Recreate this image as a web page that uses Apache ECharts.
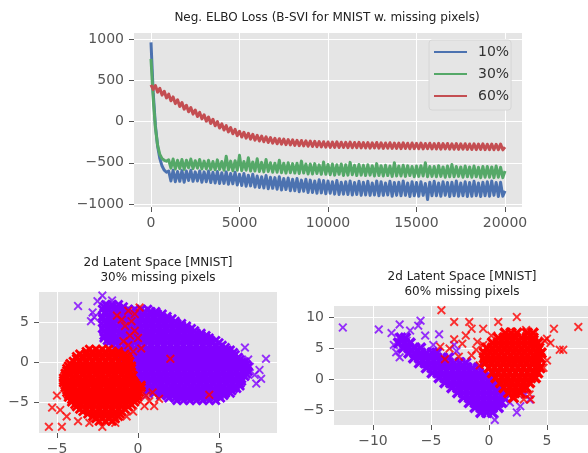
<!DOCTYPE html>
<html><head><meta charset="utf-8">
<script src="https://cdn.jsdelivr.net/npm/echarts@6/dist/echarts.min.js"></script>
<style>html,body{margin:0;padding:0;background:#fff}#c{width:588px;height:453px}</style>
</head><body><div id="c"></div>
<script>
// ---- Loss curves (sampled every 125 iterations) ----
const seriesNames = ['10%', '30%', '60%'];
const iters = Array.from({length: 161}, (_, i) => i * 125);
const loss10 = [960,350,-50,-300,-450,-540,-590,-615,
-600,-720,-590,-730,-605,-725,-595,-735,
-600,-715,-590,-725,-610,-720,-600,-735,
-610,-730,-600,-740,-615,-745,-605,-750,
-620,-750,-610,-760,-630,-755,-615,-770,
-640,-775,-630,-785,-650,-780,-640,-795,
-660,-800,-670,-805,-655,-815,-675,-810,
-680,-820,-670,-830,-690,-825,-685,-840,
-700,-840,-690,-850,-710,-845,-700,-860,
-710,-860,-720,-870,-705,-865,-715,-875,
-720,-870,-730,-880,-715,-885,-735,-880,
-730,-885,-720,-890,-740,-885,-725,-895,
-735,-890,-725,-895,-745,-890,-720,-900,
-730,-895,-745,-890,-725,-905,-740,-895,
-735,-900,-720,-895,-745,-910,-730,-900,
-740,-905,-730,-895,-750,-945,-735,-900,
-725,-900,-745,-905,-730,-895,-740,-910,
-735,-900,-720,-905,-745,-900,-730,-910,
-740,-905,-725,-900,-745,-910,-735,-900,
-730,-905,-720,-895,-740,-910,-735,-905,
-840];
const loss30 = [760,280,-80,-290,-400,-450,-470,-480,
-465,-565,-455,-575,-470,-570,-460,-580,
-470,-560,-455,-570,-475,-565,-460,-575,
-480,-575,-470,-580,-485,-585,-465,-580,
-485,-590,-420,-585,-480,-595,-475,-590,
-410,-595,-485,-590,-440,-600,-490,-600,
-450,-605,-495,-610,-460,-605,-500,-615,
-505,-615,-470,-620,-505,-625,-500,-620,
-510,-625,-505,-630,-480,-625,-515,-635,
-515,-635,-510,-630,-525,-640,-490,-640,
-520,-645,-515,-650,-525,-640,-515,-655,
-525,-650,-495,-645,-530,-655,-520,-650,
-530,-655,-525,-650,-535,-660,-510,-655,
-535,-660,-530,-655,-540,-665,-500,-660,
-540,-660,-530,-665,-535,-655,-545,-670,
-540,-665,-535,-660,-500,-670,-545,-665,
-545,-670,-535,-665,-550,-675,-540,-670,
-520,-670,-545,-665,-550,-675,-540,-670,
-550,-675,-540,-670,-555,-680,-545,-675,
-545,-675,-550,-680,-540,-675,-555,-680,
-600];
const loss60 = [445,390,437,356,402,320,367,286,
332,251,298,217,264,183,230,150,
197,119,169,90,140,61,111,32,
82,4,54,-23,27,-51,-1,-78,
-28,-103,-50,-126,-73,-148,-95,-171,
-118,-188,-130,-201,-143,-213,-155,-226,
-168,-236,-177,-245,-186,-254,-194,-263,
-203,-270,-208,-274,-213,-280,-218,-284,
-223,-289,-227,-293,-230,-296,-234,-300,
-238,-303,-240,-306,-243,-308,-245,-311,
-248,-313,-250,-314,-247,-315,-251,-315,
-252,-317,-250,-318,-254,-317,-252,-319,
-256,-321,-255,-322,-258,-320,-254,-323,
-259,-325,-260,-324,-257,-326,-261,-325,
-262,-328,-259,-327,-263,-330,-260,-328,
-264,-330,-262,-331,-266,-329,-263,-332,
-267,-333,-265,-334,-268,-332,-266,-335,
-270,-336,-268,-337,-271,-335,-269,-338,
-272,-339,-271,-340,-274,-338,-270,-341,
-275,-341,-273,-342,-276,-340,-274,-343,
-310];
const lossTicksX = [0, 5000, 10000, 15000, 20000];
const lossTicksY = [-1000, -500, 0, 500, 1000];

// ---- Latent space, 30% missing: rows [v, u1, u2, ...] ----
const purple30Rows = [
[7.2,-2.0,-1.6,-1.2],
[6.9,-2.1,-1.7,-1.3,-0.9],
[6.6,-2.2,-1.8,-1.4,-1.0,-0.6,-0.2,0.2,0.6],
[6.3,-2.0,-1.6,-1.2,-0.8,-0.4,0.0,0.4,0.8,1.1],
[6.0,-2.0,-1.6,-1.2,-0.8,-0.4,0.0,0.4,0.8,1.2,1.5],
[5.7,-2.2,-1.8,-1.4,-1.0,-0.6,-0.2,0.2,0.6,1.0,1.4,1.8],
[5.4,-2.2,-1.8,-1.4,-1.0,-0.6,-0.2,0.2,0.6,1.0,1.4,1.8,2.1],
[5.1,-2.1,-1.7,-1.3,-0.9,-0.5,-0.1,0.3,0.7,1.1,1.5,1.9,2.3],
[4.8,-2.0,-1.6,-1.2,-0.8,-0.4,0.0,0.4,0.8,1.2,1.6,2.0,2.4,2.7],
[4.5,-2.1,-1.7,-1.3,-0.9,-0.5,-0.1,0.3,0.7,1.1,1.5,1.9,2.3,2.7,3.0],
[4.2,-2.2,-1.8,-1.4,-1.0,-0.6,-0.2,0.2,0.6,1.0,1.4,1.8,2.2,2.6,3.0,3.3],
[3.9,-2.1,-1.7,-1.3,-0.9,-0.5,-0.1,0.3,0.7,1.1,1.5,1.9,2.3,2.7,3.1,3.5],
[3.6,-2.0,-1.6,-1.2,-0.8,-0.4,0.0,0.4,0.8,1.2,1.6,2.0,2.4,2.8,3.2,3.6,3.9],
[3.3,-2.1,-1.7,-1.3,-0.9,-0.5,-0.1,0.3,0.7,1.1,1.5,1.9,2.3,2.7,3.1,3.5,3.9,4.2],
[3.0,-2.1,-1.8,-1.4,-1.0,-0.6,-0.2,0.2,0.6,1.0,1.4,1.8,2.2,2.6,3.0,3.4,3.8,4.2,4.4],
[2.7,-1.9,-1.5,-1.1,-0.7,-0.3,0.1,0.5,0.9,1.3,1.7,2.1,2.5,2.9,3.3,3.7,4.1,4.5,4.8],
[2.4,-1.8,-1.4,-1.0,-0.6,-0.2,0.2,0.6,1.0,1.4,1.8,2.2,2.6,3.0,3.4,3.8,4.2,4.6,5.0],
[2.1,-1.6,-1.2,-0.8,-0.4,0.0,0.4,0.8,1.2,1.6,2.0,2.4,2.8,3.2,3.6,4.0,4.4,4.8,5.2],
[1.8,-1.4,-1.0,-0.6,-0.2,0.2,0.6,1.0,1.4,1.8,2.2,2.6,3.0,3.4,3.8,4.2,4.6,5.0,5.4],
[1.5,-1.3,-0.9,-0.5,-0.1,0.3,0.7,1.1,1.5,1.9,2.3,2.7,3.1,3.5,3.9,4.3,4.7,5.1,5.5,5.7],
[1.2,-1.2,-0.8,-0.4,0.0,0.4,0.8,1.2,1.6,2.0,2.4,2.8,3.2,3.6,4.0,4.4,4.8,5.2,5.6,5.9],
[0.9,-1.1,-0.7,-0.3,0.1,0.5,0.9,1.3,1.7,2.1,2.5,2.9,3.3,3.7,4.1,4.5,4.9,5.3,5.7,6.0],
[0.6,-1.0,-0.6,-0.2,0.2,0.6,1.0,1.4,1.8,2.2,2.6,3.0,3.4,3.8,4.2,4.6,5.0,5.4,5.8,6.2],
[0.3,-0.9,-0.5,-0.1,0.3,0.7,1.1,1.5,1.9,2.3,2.7,3.1,3.5,3.9,4.3,4.7,5.1,5.5,5.9,6.3],
[0.0,-0.8,-0.4,0.0,0.4,0.8,1.2,1.6,2.0,2.4,2.8,3.2,3.6,4.0,4.4,4.8,5.2,5.6,6.0,6.4,6.6],
[-0.3,-0.7,-0.3,0.1,0.5,0.9,1.3,1.7,2.1,2.5,2.9,3.3,3.7,4.1,4.5,4.9,5.3,5.7,6.1,6.5,6.7],
[-0.6,-0.6,-0.2,0.2,0.6,1.0,1.4,1.8,2.2,2.6,3.0,3.4,3.8,4.2,4.6,5.0,5.4,5.8,6.2,6.6,6.8],
[-0.9,-0.5,-0.1,0.3,0.7,1.1,1.5,1.9,2.3,2.7,3.1,3.5,3.9,4.3,4.7,5.1,5.5,5.9,6.3,6.7],
[-1.2,-0.4,0.0,0.4,0.8,1.2,1.6,2.0,2.4,2.8,3.2,3.6,4.0,4.4,4.8,5.2,5.6,6.0,6.4,6.8],
[-1.5,-0.5,-0.1,0.3,0.7,1.1,1.5,1.9,2.3,2.7,3.1,3.5,3.9,4.3,4.7,5.1,5.5,5.9,6.3,6.7],
[-1.8,-0.5,-0.2,0.2,0.6,1.0,1.4,1.8,2.2,2.6,3.0,3.4,3.8,4.2,4.6,5.0,5.4,5.8,6.2,6.6],
[-2.1,-0.4,0.0,0.4,0.8,1.2,1.6,2.0,2.4,2.8,3.2,3.6,4.0,4.4,4.8,5.2,5.6,6.0,6.4],
[-2.4,-0.3,0.0,0.4,0.8,1.2,1.6,2.0,2.4,2.8,3.2,3.6,4.0,4.4,4.8,5.2,5.6,6.0,6.4],
[-2.7,-0.1,0.3,0.7,1.1,1.5,1.9,2.3,2.7,3.1,3.5,3.9,4.3,4.7,5.1,5.5,5.9,6.3],
[-3.0,0.0,0.4,0.8,1.2,1.6,2.0,2.4,2.8,3.2,3.6,4.0,4.4,4.8,5.2,5.6,6.0,6.3],
[-3.3,0.3,0.7,1.1,1.5,1.9,2.3,2.7,3.1,3.5,3.9,4.3,4.7,5.1,5.5,5.9,6.1],
[-3.6,0.6,1.0,1.4,1.8,2.2,2.6,3.0,3.4,3.8,4.2,4.6,5.0,5.4,5.8],
[-3.9,1.0,1.4,1.8,2.2,2.6,3.0,3.4,3.8,4.2,4.6,5.0,5.4,5.7],
[-4.2,1.4,1.8,2.2,2.6,3.0,3.4,3.8,4.2,4.6,5.0,5.3],
[-4.5,1.9,2.3,2.7,3.1,3.5,3.9,4.3,4.7,5.1],
[-4.8,2.4,2.8,3.2,3.6,4.0,4.4,4.8]];
const purple30Out = [[-3.7,7.0],[-2.2,8.3],[-2.8,6.2],[-2.9,5.1],[-2.7,5.6],[-1.6,7.7],[-1.9,7.2],[-2.5,7.6],
[6.6,1.8],[7.9,0.4],[6.8,0.3],[7.5,-1.0],[7.6,-2.1],[7.3,-2.7],[6.9,-0.6],[7.2,-1.6],[1.5,5.6],[0.5,-4.2]];
const red30Rows = [
[1.6,-3.0,-2.6,-2.2,-1.8],
[1.3,-3.2,-2.8,-2.4,-2.0,-1.6,-1.2],
[1.0,-3.6,-3.2,-2.8,-2.4,-2.0,-1.6,-1.2,-0.8],
[0.7,-3.8,-3.4,-3.0,-2.6,-2.2,-1.8,-1.4,-1.0,-0.7],
[0.4,-3.8,-3.4,-3.0,-2.6,-2.2,-1.8,-1.4,-1.0,-0.6],
[0.1,-4.0,-3.6,-3.2,-2.8,-2.4,-2.0,-1.6,-1.2,-0.8,-0.5],
[-0.2,-4.2,-3.8,-3.4,-3.0,-2.6,-2.2,-1.8,-1.4,-1.0,-0.6],
[-0.5,-4.3,-3.9,-3.5,-3.1,-2.7,-2.3,-1.9,-1.5,-1.1,-0.7,-0.4],
[-0.8,-4.4,-4.0,-3.6,-3.2,-2.8,-2.4,-2.0,-1.6,-1.2,-0.8,-0.4],
[-1.1,-4.4,-4.1,-3.7,-3.3,-2.9,-2.5,-2.1,-1.7,-1.3,-0.9,-0.5],
[-1.4,-4.5,-4.2,-3.8,-3.4,-3.0,-2.6,-2.2,-1.8,-1.4,-1.0,-0.6],
[-1.7,-4.5,-4.2,-3.8,-3.4,-3.0,-2.6,-2.2,-1.8,-1.4,-1.0,-0.6,-0.3],
[-2.0,-4.6,-4.0,-3.6,-3.2,-2.8,-2.4,-2.0,-1.6,-1.2,-0.8,-0.4],
[-2.3,-4.6,-4.3,-3.9,-3.5,-3.1,-2.7,-2.3,-1.9,-1.5,-1.1,-0.7,-0.3],
[-2.6,-4.6,-4.2,-3.8,-3.4,-3.0,-2.6,-2.2,-1.8,-1.4,-1.0,-0.6,-0.2],
[-2.9,-4.5,-4.1,-3.7,-3.3,-2.9,-2.5,-2.1,-1.7,-1.3,-0.9,-0.5,-0.1,0.2],
[-3.2,-4.5,-4.0,-3.6,-3.2,-2.8,-2.4,-2.0,-1.6,-1.2,-0.8,-0.4,0.0,0.2],
[-3.5,-4.4,-4.1,-3.7,-3.3,-2.9,-2.5,-2.1,-1.7,-1.3,-0.9,-0.5,-0.1],
[-3.8,-4.4,-4.2,-3.8,-3.4,-3.0,-2.6,-2.2,-1.8,-1.4,-1.0,-0.6,-0.2,0.1],
[-4.1,-4.3,-3.9,-3.5,-3.1,-2.7,-2.3,-1.9,-1.5,-1.1,-0.7,-0.3,0.0],
[-4.4,-4.3,-4.0,-3.6,-3.2,-2.8,-2.4,-2.0,-1.6,-1.2,-0.8,-0.4,0.0],
[-4.7,-4.1,-3.7,-3.3,-2.9,-2.5,-2.1,-1.7,-1.3,-0.9,-0.5,-0.1],
[-5.0,-4.1,-3.8,-3.4,-3.0,-2.6,-2.2,-1.8,-1.4,-1.0,-0.6,-0.2],
[-5.3,-3.9,-3.5,-3.1,-2.7,-2.3,-1.9,-1.5,-1.1,-0.7,-0.4],
[-5.6,-3.8,-3.4,-3.0,-2.6,-2.2,-1.8,-1.4,-1.0,-0.6],
[-5.9,-3.6,-3.2,-2.8,-2.4,-2.0,-1.6,-1.2,-0.8],
[-6.2,-3.4,-3.0,-2.6,-2.2,-1.8,-1.4,-1.0],
[-6.5,-3.1,-2.7,-2.3,-1.9,-1.5,-1.1],
[-6.8,-2.8,-2.4,-2.0,-1.6,-1.2],
[-7.1,-2.6,-2.2,-1.8,-1.4],
[-7.4,-2.4,-2.0,-1.6]];
const red30Out = [[-5.5,-8.1],[-4.7,-8.1],[-5.3,-5.7],[-5.0,-4.2],[-4.4,-6.8],[-4.8,-6.0],[-3.7,-7.4],[-3.0,-7.6],
[-2.2,-8.1],[-1.4,-7.6],[-0.7,-6.8],[-0.3,-6.2],[0.4,-5.5],[1.0,-5.5],[0.7,-4.9],[1.3,-4.6],[0.9,-3.8],[0.5,-4.2],
[0.1,6.8],[-0.6,6.4],[-0.2,6.0],[-0.4,5.1],[-1.0,5.3],[-0.2,3.9],[0.0,3.0],[-0.6,2.1],[-0.3,1.3],[-0.9,2.6],
[0.2,1.7],[2.0,0.4],[4.4,-4.1],[-1.3,5.8],[-0.8,4.5],[-0.5,3.3]];

// ---- Latent space, 60% missing ----
const purple60Rows = [
[6.6,-7.6,-7.2],
[5.8,-7.8,-7.3,-6.8],
[5.0,-7.4,-6.9,-6.4,-5.9],
[4.2,-6.9,-6.4,-5.9,-5.4,-4.9,-4.5],
[3.4,-6.5,-6.0,-5.5,-5.0,-4.5,-4.0,-3.5],
[2.6,-6.0,-5.5,-5.0,-4.5,-4.0,-3.5,-3.0,-2.5,-2.0],
[1.8,-5.4,-4.9,-4.4,-3.9,-3.4,-2.9,-2.4,-1.9,-1.4,-0.9],
[1.0,-4.9,-4.4,-3.9,-3.4,-2.9,-2.4,-1.9,-1.4,-0.9,-0.4],
[0.2,-4.3,-3.8,-3.3,-2.8,-2.3,-1.8,-1.3,-0.8,-0.3,0.2],
[-0.6,-3.8,-3.3,-2.8,-2.3,-1.8,-1.3,-0.8,-0.3,0.2,0.7],
[-1.4,-3.2,-2.7,-2.2,-1.7,-1.2,-0.7,-0.2,0.3,0.8,1.2],
[-2.2,-2.7,-2.2,-1.7,-1.2,-0.7,-0.2,0.3,0.8,1.3],
[-3.0,-2.2,-1.7,-1.2,-0.7,-0.2,0.3,0.8,1.3],
[-3.8,-1.7,-1.2,-0.7,-0.2,0.3,0.8,1.1],
[-4.6,-1.2,-0.7,-0.2,0.3,0.8],
[-5.4,-0.7,-0.2,0.3]];
const purple60Out = [[-12.6,8.3],[-9.5,8.0],[-8.4,7.4],[-7.7,8.8],[-7.8,6.7],[-5.9,9.4],[-6.1,8.6],[-8.0,4.3],
[-7.7,3.5],[-7.1,6.2],[-4.3,7.2],[-6.8,7.8],[-5.5,7.0],[-3.0,5.5],[-2.8,4.5],[0.5,-6.6],[2.4,-5.4],[2.7,-4.4],
[3.5,-3.3],[3.1,-2.5],[1.8,-3.8],[-8.2,5.5],[-6.9,5.1],[-4.8,5.5]];
const red60Rows = [
[7.4,1.4,1.9,2.4,3.3,3.8],
[6.6,0.8,1.3,1.8,2.3,2.8,3.3,3.8],
[5.8,0.3,0.8,1.3,1.8,2.3,2.8,3.3,3.8,4.2],
[5.0,-0.2,0.3,0.8,1.3,1.8,2.3,2.8,3.3,3.8,4.3],
[4.2,-0.4,0.1,0.6,1.1,1.6,2.1,2.6,3.1,3.6,4.1,4.5],
[3.4,-0.4,0.1,0.6,1.1,1.6,2.1,2.6,3.1,3.6,4.1,4.4],
[2.6,-0.3,0.2,0.7,1.2,1.7,2.2,2.7,3.2,3.7,4.2],
[1.8,0.0,0.5,1.0,1.5,2.0,2.5,3.0,3.5,4.0,4.4],
[1.0,0.3,0.8,1.3,1.8,2.3,2.8,3.3,3.8,4.2],
[0.2,0.6,1.1,1.6,2.1,2.6,3.1,3.6,4.0],
[-0.6,1.0,1.5,2.0,2.5,3.0,3.5],
[-1.4,1.3,1.8,2.3,2.8,3.2],
[-2.2,1.7,2.2,2.7],
[-3.0,2.1]];
const red60Out = [[-4.1,11.1],[-3.0,9.2],[-1.7,9.2],[-1.5,8.1],[-0.5,8.1],[0.8,9.2],[2.4,10.0],[3.2,7.9],
[5.6,8.1],[7.7,8.4],[5.0,6.5],[6.1,4.7],[6.4,4.7],[5.3,5.8],[4.8,6.2],[4.1,3.6],[3.0,-3.3],[3.6,-3.3],
[-2.3,5.7],[-3.4,4.9],[-2.6,3.6],[-1.1,4.7],[-4.2,5.2],[-3.0,6.4],[-2.0,7.0],[-1.0,6.0],[-0.5,5.5],
[-1.5,3.8],[0.2,7.0],[-3.8,3.2],[4.7,1.8],[5.0,3.0],[3.5,-2.5],[-0.8,2.2]];
const latentTicks30X = [-5, 0, 5], latentTicks30Y = [-5, 0, 5];
const latentTicks60X = [-10, -5, 0, 5], latentTicks60Y = [-5, 0, 5, 10];

function rowsToPts(rows) { const out = []; rows.forEach(r => { for (let i = 1; i < r.length; i++) out.push([r[i], r[0]]); }); return out; }
const pairs = (ys) => iters.map((x, i) => [x, ys[i]]);

const FONT = 'DejaVu Sans';
const X_THIN = 'path://M1.5,0 L5,3.5 L8.5,0 L10,1.5 L6.5,5 L10,8.5 L8.5,10 L5,6.5 L1.5,10 L0,8.5 L3.5,5 L0,1.5 Z';
const X_BOLD = 'path://M2,0 L5,3 L8,0 L10,2 L7,5 L10,8 L8,10 L5,7 L2,10 L0,8 L3,5 L0,2 Z';
const fmt = v => (v < 0 ? '\u2212' + Math.abs(v) : String(v));

function axis(idx, min, max, ticks, isX) {
  return {
    type: 'value', gridIndex: idx, min: min, max: max,
    axisLine: { show: false, onZero: false },
    axisTick: { show: true, length: 5, customValues: ticks, lineStyle: { color: '#555', width: 1 } },
    axisLabel: { customValues: ticks, color: '#555', fontSize: 14, fontFamily: FONT, margin: isX ? 9 : 10, formatter: fmt },
    splitLine: { show: true, lineStyle: { color: '#ffffff', width: 1 } },
    splitArea: { show: false }
  };
}

const chart = echarts.init(document.getElementById('c'), null, { renderer: 'canvas' });
const lineColors = ['#4C72B0', '#55A868', '#C44E52'];
const lossData = [loss10, loss30, loss60];
const gridBase = { show: true, backgroundColor: '#E5E5E5', borderWidth: 0, containLabel: false, outerBoundsMode: 'none' };

const opt = {
  animation: false,
  backgroundColor: '#ffffff',
  grid: [
    Object.assign({ left: 134, top: 33, width: 388, height: 174 }, gridBase),
    Object.assign({ left: 39, top: 292, width: 238, height: 141 }, gridBase),
    Object.assign({ left: 334, top: 306, width: 258, height: 119 }, gridBase)
  ],
  xAxis: [axis(0, -960, 20960, lossTicksX, true), axis(1, -6.11, 8.58, latentTicks30X, true), axis(2, -13.36, 8.88, latentTicks60X, true)],
  yAxis: [axis(0, -1036, 1073, lossTicksY, false), axis(1, -8.875, 8.75, latentTicks30Y, false), axis(2, -7.42, 11.77, latentTicks60Y, false)],
  legend: {
    data: seriesNames, orient: 'vertical', left: 429, top: 40, icon: 'rect',
    itemWidth: 33, itemHeight: 2, itemGap: 6,
    padding: [4, 2, 6, 5],
    backgroundColor: '#E5E5E5', borderColor: '#d6d6d6', borderWidth: 1, borderRadius: 3,
    textStyle: { fontSize: 14, fontFamily: FONT, color: '#333', lineHeight: 16, padding: [0, 0, 0, 6] }
  },
  graphic: [
    { type: 'text', x: 327, y: 18, style: { text: 'Neg. ELBO Loss (B-SVI for MNIST w. missing pixels)', font: '12px "DejaVu Sans"', fill: '#222', align: 'center', verticalAlign: 'middle' } },
    { type: 'text', x: 158, y: 270.5, style: { text: '2d Latent Space [MNIST]\n30% missing pixels', font: '12px "DejaVu Sans"', fill: '#222', align: 'center', verticalAlign: 'middle', lineHeight: 15 } },
    { type: 'text', x: 462, y: 284.5, style: { text: '2d Latent Space [MNIST]\n60% missing pixels', font: '12px "DejaVu Sans"', fill: '#222', align: 'center', verticalAlign: 'middle', lineHeight: 15 } }
  ],
  series: []
};

lossData.forEach((d, i) => {
  opt.series.push({
    name: seriesNames[i], type: 'line', xAxisIndex: 0, yAxisIndex: 0, data: pairs(d),
    showSymbol: false, symbol: 'none', lineStyle: { color: lineColors[i], width: 3, join: 'round' }, itemStyle: { color: lineColors[i] },
    emphasis: { disabled: true }, z: 2 + i
  });
});

function scatter(idx, pts, color, z, core, size) {
  return { type: 'scatter', xAxisIndex: idx, yAxisIndex: idx, data: pts,
    symbol: core ? X_BOLD : X_THIN, symbolSize: size,
    itemStyle: { color: color, opacity: core ? 1 : 0.8 }, emphasis: { disabled: true }, z: z, clip: true };
}
opt.series.push(scatter(1, purple30Out, '#8000FF', 3, false, 9));
opt.series.push(scatter(1, rowsToPts(purple30Rows), '#8000FF', 3, true, 10));
opt.series.push(scatter(1, red30Out, '#FF0000', 4, false, 9));
opt.series.push(scatter(1, rowsToPts(red30Rows), '#FF0000', 4, true, 10));
opt.series.push(scatter(2, purple60Out, '#8000FF', 3, false, 9));
opt.series.push(scatter(2, rowsToPts(purple60Rows), '#8000FF', 3, true, 12));
opt.series.push(scatter(2, red60Out, '#FF0000', 4, false, 9));
opt.series.push(scatter(2, rowsToPts(red60Rows), '#FF0000', 4, true, 12));

chart.setOption(opt);
</script>
</body></html>
